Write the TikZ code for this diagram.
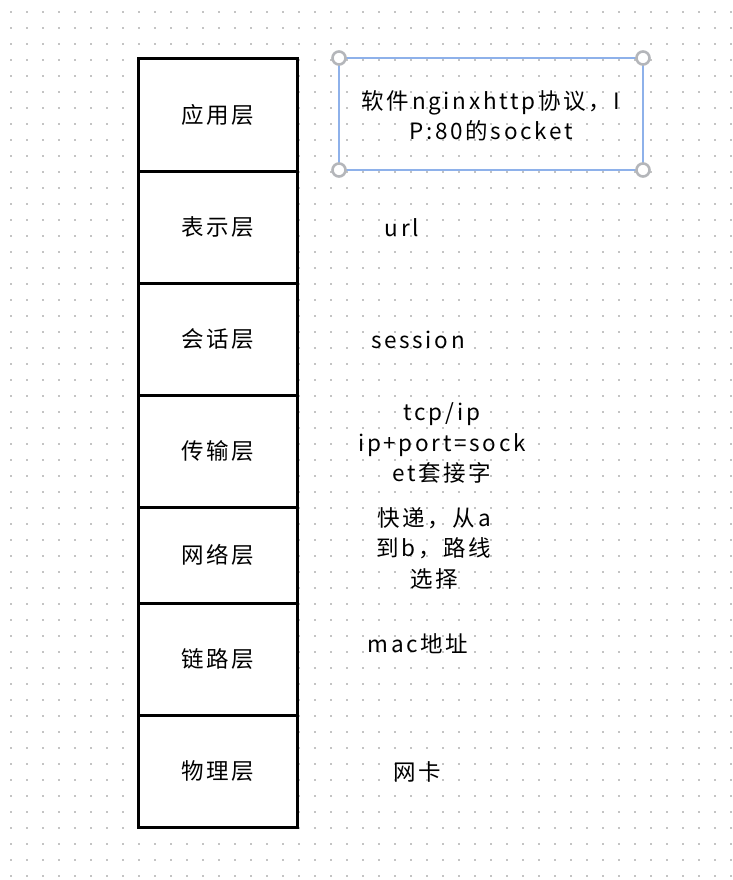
\documentclass[tikz,border=0pt]{standalone}
\usepackage{fontspec}
\setmainfont{Noto Sans CJK SC}[LetterSpace=12]
\definecolor{dotgray}{HTML}{C4C4C4}
\definecolor{selblue}{HTML}{8EB1EA}
\definecolor{handlegray}{HTML}{B4B6BA}
\begin{document}
\begin{tikzpicture}[x=1pt,y=-1pt,
  cell/.style={draw=black,line width=3pt,fill=white,minimum width=159pt,inner sep=0pt,outer sep=0pt,font=\fontsize{22.5}{26}\selectfont},
  note/.style={align=center,inner sep=0pt,font=\fontsize{22.5}{30.5}\selectfont},
  handle/.style={circle,draw=handlegray,line width=2.6pt,fill=white,minimum size=13pt,inner sep=0pt}]
\useasboundingbox (0,0) rectangle (732,880);
\fill[white] (0,0) rectangle (732,880);
\foreach \i in {0,...,45}{
  \foreach \j in {0,...,54}{
    \fill[dotgray] ({11+16*\i-0.8},{12+16*\j-0.8}) rectangle ++(1.6,1.6);
  }}
% layers
\node[cell,minimum height=112pt] (l1) at (218,115) {应用层};
\node[cell,minimum height=112pt] (l2) at (218,227) {表示层};
\node[cell,minimum height=112pt] (l3) at (218,339) {会话层};
\node[cell,minimum height=112pt] (l4) at (218,451) {传输层};
\node[cell,minimum height=96pt] (l5) at (218,555) {网络层};
\node[cell,minimum height=112pt] (l6) at (218,659) {链路层};
\node[cell,minimum height=112pt] (l7) at (218,771) {物理层};
% selected note box
\coordinate (b1) at (339,58);
\coordinate (b2) at (643,58);
\coordinate (b3) at (643,170);
\coordinate (b4) at (339,170);
\draw[selblue,line width=1.1pt] (b1) -- (b2) -- (b3) -- (b4) -- cycle;
\node[handle] (h1) at (b1) {};
\node[handle] (h2) at (b2) {};
\node[handle] (h3) at (b3) {};
\node[handle] (h4) at (b4) {};
\node[note] (t1) at (491,116) {软件nginxhttp协议，I\\P:80的socket};
\node[note] (t2) at (402,228) {url};
\node[note] (t3) at (418,340) {session};
\node[note] (t4) at (442,443) {tcp/ip\\ip+port=sock\\et套接字};
\node[note] (t5) at (434,548) {快递，从a\\到b，路线\\选择};
\node[note] (t6) at (418,644) {mac地址};
\node[note] (t7) at (417,772) {网卡};
\end{tikzpicture}
\end{document}
